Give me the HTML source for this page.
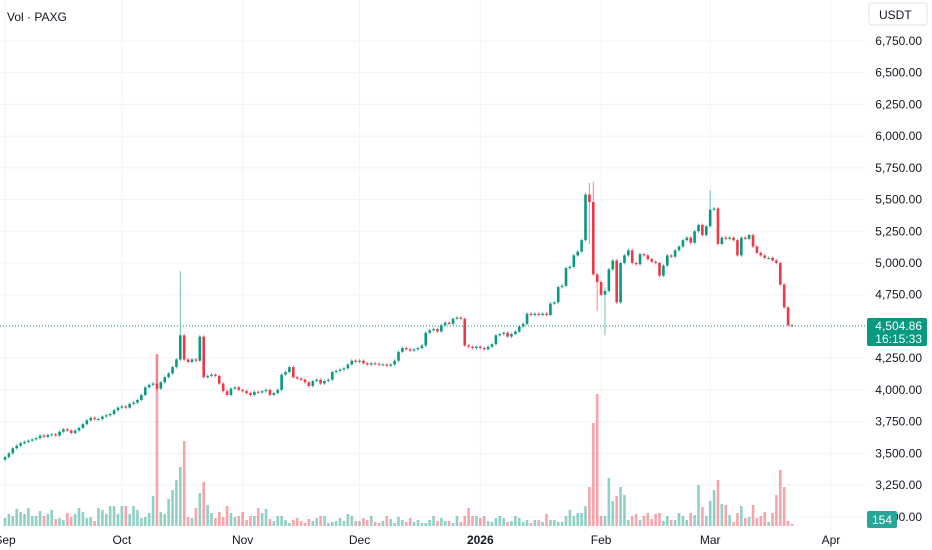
<!DOCTYPE html>
<html><head><meta charset="utf-8">
<style>
html,body{margin:0;padding:0;background:#fff;}
body{width:932px;height:550px;overflow:hidden;font-family:"Liberation Sans",sans-serif;}
svg{display:block;}
</style></head>
<body>
<svg id="chart" width="932" height="550" xmlns="http://www.w3.org/2000/svg">
<g id="grid"></g>
<g id="vols"></g>
<g id="candles"></g>
<line x1="0" x2="866" y1="326" y2="326" stroke="#089981" stroke-width="1" stroke-dasharray="1,2"/>
<g id="yaxis"></g>
<g id="xaxis"></g>
<text x="7" y="21" font-size="12" fill="#131722">Vol · PAXG</text>
<rect x="869" y="3" width="58" height="22" rx="3" fill="#fff" stroke="#e0e3eb"/>
<text x="879" y="19" font-size="12" fill="#131722">USDT</text>
<rect x="867" y="318" width="60" height="28" rx="2" fill="#089981"/>
<text x="922" y="330" font-size="12" fill="#fff" text-anchor="end">4,504.86</text>
<text x="922" y="343" font-size="12" fill="#fff" text-anchor="end">16:15:33</text>
<rect x="867" y="511" width="30" height="17" rx="2" fill="#26a69a"/>
<text x="882" y="524" font-size="12" fill="#fff" text-anchor="middle">154</text>
</svg>
<script>
const closes = [
3470,3500,3540,3560,3580,3590,3600,3610,3620,3640,3630,3645,3650,3640,3670,3690,3680,3660,3680,3700,3730,3760,3780,3770,3770,3790,3800,3810,3840,3860,
3870,3860,3890,3900,3920,3960,4020,4040,4050,4010,4060,4100,4130,4180,4240,4430,4240,4220,4240,4230,4420,4100,4110,4120,4110,4050,3990,3960,4010,4020,4000,
3990,3975,3960,3985,3980,3990,4000,3960,3975,4000,4120,4140,4180,4100,4090,4080,4060,4030,4070,4080,4050,4070,4080,4140,4150,4160,4170,4200,4230,4220,
4230,4210,4200,4210,4205,4200,4200,4190,4200,4230,4300,4330,4320,4310,4320,4330,4350,4450,4470,4480,4460,4510,4530,4520,4560,4570,4560,4350,4340,4330,4340,
4330,4320,4340,4360,4430,4440,4450,4420,4440,4460,4500,4520,4600,4590,4600,4590,4600,4590,4680,4690,4810,4820,4960,4970,5060,5090,5180,5540,5480,4910,4850,
4750,4780,4950,5020,4690,5000,5060,5100,5000,4990,5070,5060,5030,5010,5000,4900,4980,5060,5050,5100,5130,5180,5200,5160,5250,5300,5220,5290,
5420,5430,5150,5200,5190,5200,5180,5060,5200,5190,5220,5130,5080,5060,5040,5040,5020,5000,4830,4650,4510,4505];
const firstOpen = 3450;
const specialWicks = {39:[4280,3990],45:[4937,4240],150:[5630,5150],151:[5640,5420],154:[4810,4430],181:[5575,5300],152:[4900,4620]};
const volumes = [
8,12,10,17,14,12,18,10,10,15,10,12,16,7,8,6,13,9,12,18,14,8,9,5,18,16,12,20,20,12,
20,20,12,20,16,8,9,13,30,172,14,12,27,36,46,59,85,9,8,18,33,44,21,13,8,14,9,20,13,9,10,
14,6,10,10,18,13,17,7,5,10,10,6,3,6,8,5,3,7,5,8,10,10,3,4,5,8,5,12,10,5,
5,8,6,10,4,3,5,10,7,3,9,6,4,8,4,6,3,3,6,10,5,8,5,5,3,10,4,10,18,10,10,
8,10,5,4,8,10,8,4,5,10,8,4,6,3,6,6,4,12,6,6,4,4,10,16,10,13,13,20,39,103,132,
10,10,48,25,30,39,31,6,10,12,6,10,13,7,12,13,5,10,6,6,13,10,6,13,11,41,19,10,
25,36,46,22,21,11,4,13,20,8,9,21,8,10,14,4,13,31,56,39,5,2];
const priceTicks = [6750,6500,6250,6000,5750,5500,5250,5000,4750,4250,4000,3750,3500,3250,3000];
const monthLabels = ["Sep","Oct","Nov","Dec","2026","Feb","Mar","Apr"];
const monthDayIdx = [0,30,61,91,122,153,181,212];

const NS="http://www.w3.org/2000/svg";
const X0=5, DX=3.896;
function xScale(i){return X0+i*DX;}
function yScale(p){return 263-(p-5000)*0.12689;}
function vScale(v){return 526-v;}
function mk(tag,attrs,parent){const e=document.createElementNS(NS,tag);for(const k in attrs)e.setAttribute(k,attrs[k]);parent.appendChild(e);return e;}
const fmt=p=>p.toLocaleString("en-US",{minimumFractionDigits:2,maximumFractionDigits:2});

const grid=document.getElementById("grid"), yaxis=document.getElementById("yaxis"), xaxis=document.getElementById("xaxis");
priceTicks.forEach(p=>{
  const y=yScale(p);
  const g=mk("line",{x1:0,x2:866,y1:y,y2:y,stroke:"#f0f3fa","stroke-width":1},grid);
  
  
  const t=mk("text",{x:922,y:y+4,"font-size":12,fill:"#131722","text-anchor":"end"},yaxis);
  t.textContent=fmt(p);
  
  
});
monthLabels.forEach((m,k)=>{
  const x=xScale(monthDayIdx[k]);
  const g=mk("line",{x1:x,x2:x,y1:0,y2:530,stroke:"#f0f3fa","stroke-width":1},grid);
  
  
  const t=mk("text",{x:x,y:544,"font-size":12,fill:"#131722","text-anchor":"middle","font-weight":m==="2026"?"bold":"normal"},xaxis);
  t.textContent=m;
  
  
});

const cg=document.getElementById("candles"), vg=document.getElementById("vols");
closes.forEach((c,i)=>{
  const o=i===0?firstOpen:closes[i-1];
  const up=c>=o;
  const col=up?"#089981":"#f23645";
  let hi=Math.max(o,c)+12, lo=Math.min(o,c)-12;
  if(specialWicks[i]){hi=Math.max(hi,specialWicks[i][0]);lo=Math.min(lo,specialWicks[i][1]);}
  const x=xScale(i);
  const w=mk("line",{x1:x,x2:x,y1:yScale(hi),y2:yScale(lo),stroke:col,"stroke-width":1,"stroke-opacity":0.6},cg);
  
  
  const yt=yScale(Math.max(o,c)), yb=yScale(Math.min(o,c));
  const b=mk("rect",{x:x-1.3,y:yt,width:2.6,height:Math.max(1,yb-yt),fill:col},cg);
  
  
  const v=volumes[i];
  if(v!==undefined){
    const vb=mk("rect",{x:x-1.3,y:vScale(v),width:2.6,height:v,fill:up?"rgba(8,153,129,0.45)":"rgba(242,54,69,0.45)"},vg);
    
    
  }
});
</script>
</body></html>
